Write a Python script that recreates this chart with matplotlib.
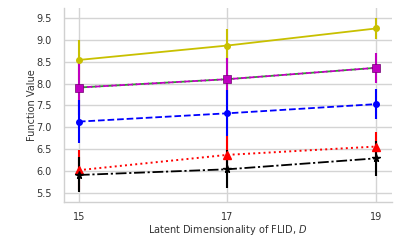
import matplotlib
matplotlib.use("Agg")
import matplotlib.pyplot as plt

x = [15, 17, 19]
yellow = [8.54, 8.87, 9.26]
yellow_err = [0.46, 0.38, 0.25]
magenta = [7.91, 8.10, 8.36]
magenta_err = [0.63, 0.48, 0.34]
blue = [7.13, 7.32, 7.53]
blue_err = [0.50, 0.53, 0.34]
red = [6.02, 6.37, 6.56]
red_err = [0.45, 0.42, 0.33]
black = [5.91, 6.04, 6.29]
black_err = [0.40, 0.43, 0.40]
xticks = [15, 17, 19]
yticks = [5.5, 6.0, 6.5, 7.0, 7.5, 8.0, 8.5, 9.0, 9.5]

fig = plt.figure(figsize=(4, 2.4), dpi=100)
ax = fig.add_axes([0.16, 0.158, 0.82, 0.809])

ax.errorbar(x, yellow, yerr=yellow_err, color='#c8c000', ecolor='#c8c000', ls='-', marker='o', ms=4, lw=1.3, elinewidth=1.5)
ax.plot(x, magenta, color='#2ca02c', ls=(2.2, (3, 1.5)), lw=1.3, zorder=2.05)
ax.errorbar(x, magenta, yerr=magenta_err, color='#c000c0', ecolor='#c000c0', ls=(0, (3, 1.5)), marker='s', ms=6, mec='#700070', mew=0.5, lw=1.3, elinewidth=1.5)
ax.errorbar(x, blue, yerr=blue_err, color='#0000ff', ecolor='#0000ff', ls='--', marker='o', ms=4, lw=1.3, elinewidth=1.5)
ax.errorbar(x, red, yerr=red_err, color='#ff0000', ecolor='#ff0000', ls=':', marker='^', ms=5.5, lw=1.4, elinewidth=1.5)
ax.errorbar(x, black, yerr=black_err, color='black', ecolor='black', ls=(0, (6, 1.5, 1.2, 1.5)), marker='*', ms=5.5, lw=1.3, elinewidth=1.5)

ax.set_xlim(14.8, 19.215)
ax.set_ylim(5.29, 9.73)
ax.set_xticks(xticks)
ax.set_xticklabels([str(v) for v in xticks])
ax.set_yticks(yticks)
ax.set_yticklabels([f"{v:.1f}" for v in yticks])
ax.grid(True, color='#d4d4d4', lw=1.0)
ax.set_axisbelow(True)
for s in ['top', 'right']:
    ax.spines[s].set_visible(False)
for s in ['left', 'bottom']:
    ax.spines[s].set_color('#d0d0d0')
    ax.spines[s].set_linewidth(1.0)
ax.tick_params(axis='both', length=0, labelsize=7, colors='#333333', pad=7)
ax.tick_params(axis='y', pad=9)
ax.set_xlabel('Latent Dimensionality of FLID, $D$', fontsize=7, color='#333333', labelpad=1.0)
ax.set_ylabel('Function Value', fontsize=7, color='#333333', labelpad=-1)

fig.savefig('out.png', dpi=100)
